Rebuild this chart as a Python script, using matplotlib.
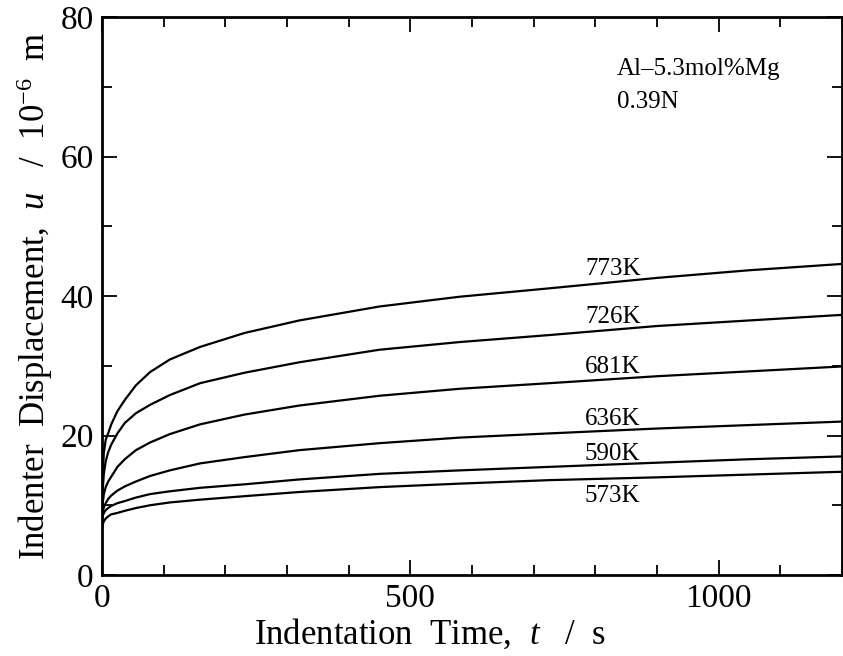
import matplotlib
matplotlib.use("Agg")
import matplotlib.pyplot as plt
from matplotlib.ticker import MultipleLocator

plt.rcParams['font.family'] = ['Liberation Serif', 'DejaVu Serif']
plt.rcParams['mathtext.fontset'] = 'custom'
plt.rcParams['mathtext.rm'] = 'Liberation Serif'
plt.rcParams['mathtext.it'] = 'Liberation Serif:italic'

# time points (s)
t = [0, 1, 3, 6, 10, 15, 25, 37, 55, 78, 110, 159, 231, 320, 450, 580, 725, 900, 1050, 1200]

# displacement (1e-6 m) per temperature
u_773 = [9.5, 14.5, 17.5, 19.4, 20.3, 21.6, 23.5, 25.1, 27.2, 29.1, 30.9, 32.7, 34.7, 36.5, 38.5, 39.9, 41.1, 42.6, 43.7, 44.6]
u_726 = [9.5, 12.0, 14.5, 16.3, 17.6, 18.7, 20.3, 21.8, 23.2, 24.4, 25.8, 27.5, 29.0, 30.5, 32.3, 33.4, 34.4, 35.7, 36.5, 37.3]
u_681 = [9.0, 10.2, 11.6, 12.6, 13.4, 14.1, 15.5, 16.6, 17.9, 19.0, 20.2, 21.6, 23.0, 24.3, 25.7, 26.7, 27.5, 28.5, 29.2, 29.9]
u_636 = [8.5, 9.0, 9.7, 10.3, 10.9, 11.4, 12.1, 12.7, 13.4, 14.2, 15.0, 16.0, 16.9, 17.9, 18.9, 19.7, 20.3, 21.0, 21.5, 22.0]
u_590 = [8.0, 8.4, 8.9, 9.3, 9.6, 9.9, 10.3, 10.6, 11.1, 11.6, 12.0, 12.5, 13.0, 13.7, 14.5, 15.0, 15.5, 16.1, 16.6, 17.0]
u_573 = [6.5, 7.2, 7.7, 8.1, 8.4, 8.7, 8.9, 9.2, 9.6, 10.0, 10.4, 10.8, 11.3, 11.9, 12.6, 13.1, 13.6, 14.0, 14.4, 14.8]

curves = [u_773, u_726, u_681, u_636, u_590, u_573]
labels = ['773K', '726K', '681K', '636K', '590K', '573K']
label_y = [43.0, 36.2, 29.0, 21.5, 16.5, 10.5]
label_x = 783

fig = plt.figure(figsize=(8.43, 6.56), dpi=100)
ax = fig.add_axes([0.121, 0.1235, 0.878, 0.8505])

for u in curves:
    ax.plot(t, u, color='black', lw=1.6, solid_joinstyle='round')

for lab, y in zip(labels, label_y):
    ax.text(label_x, y, lab, fontsize=18, ha='left', va='baseline')

ax.text(835, 71.7, 'Al\u20135.3mol%Mg', fontsize=18, ha='left', va='baseline')
ax.text(835, 67.0, '0.39N', fontsize=18, ha='left', va='baseline')

ax.set_xlim(0, 1200)
ax.set_ylim(0, 80)
ax.xaxis.set_major_locator(MultipleLocator(500))
ax.xaxis.set_minor_locator(MultipleLocator(100))
ax.yaxis.set_major_locator(MultipleLocator(20))
ax.yaxis.set_minor_locator(MultipleLocator(10))
ax.tick_params(which='both', direction='in', top=True, right=True, width=1.3, labelsize=24)
ax.tick_params(which='major', length=11, pad=6)
ax.tick_params(which='minor', length=7.5)
for s in ax.spines.values():
    s.set_linewidth(2)

ax.set_xlabel(r'Indentation  Time,  $t$   /  s', fontsize=25, labelpad=-2)
ax.xaxis.set_label_coords(0.443, -0.075)
ax.set_ylabel(r'Indenter  Displacement,  $u$   /  $10^{-6}$  m', fontsize=25, labelpad=4)

fig.savefig('out.png', dpi=100)
